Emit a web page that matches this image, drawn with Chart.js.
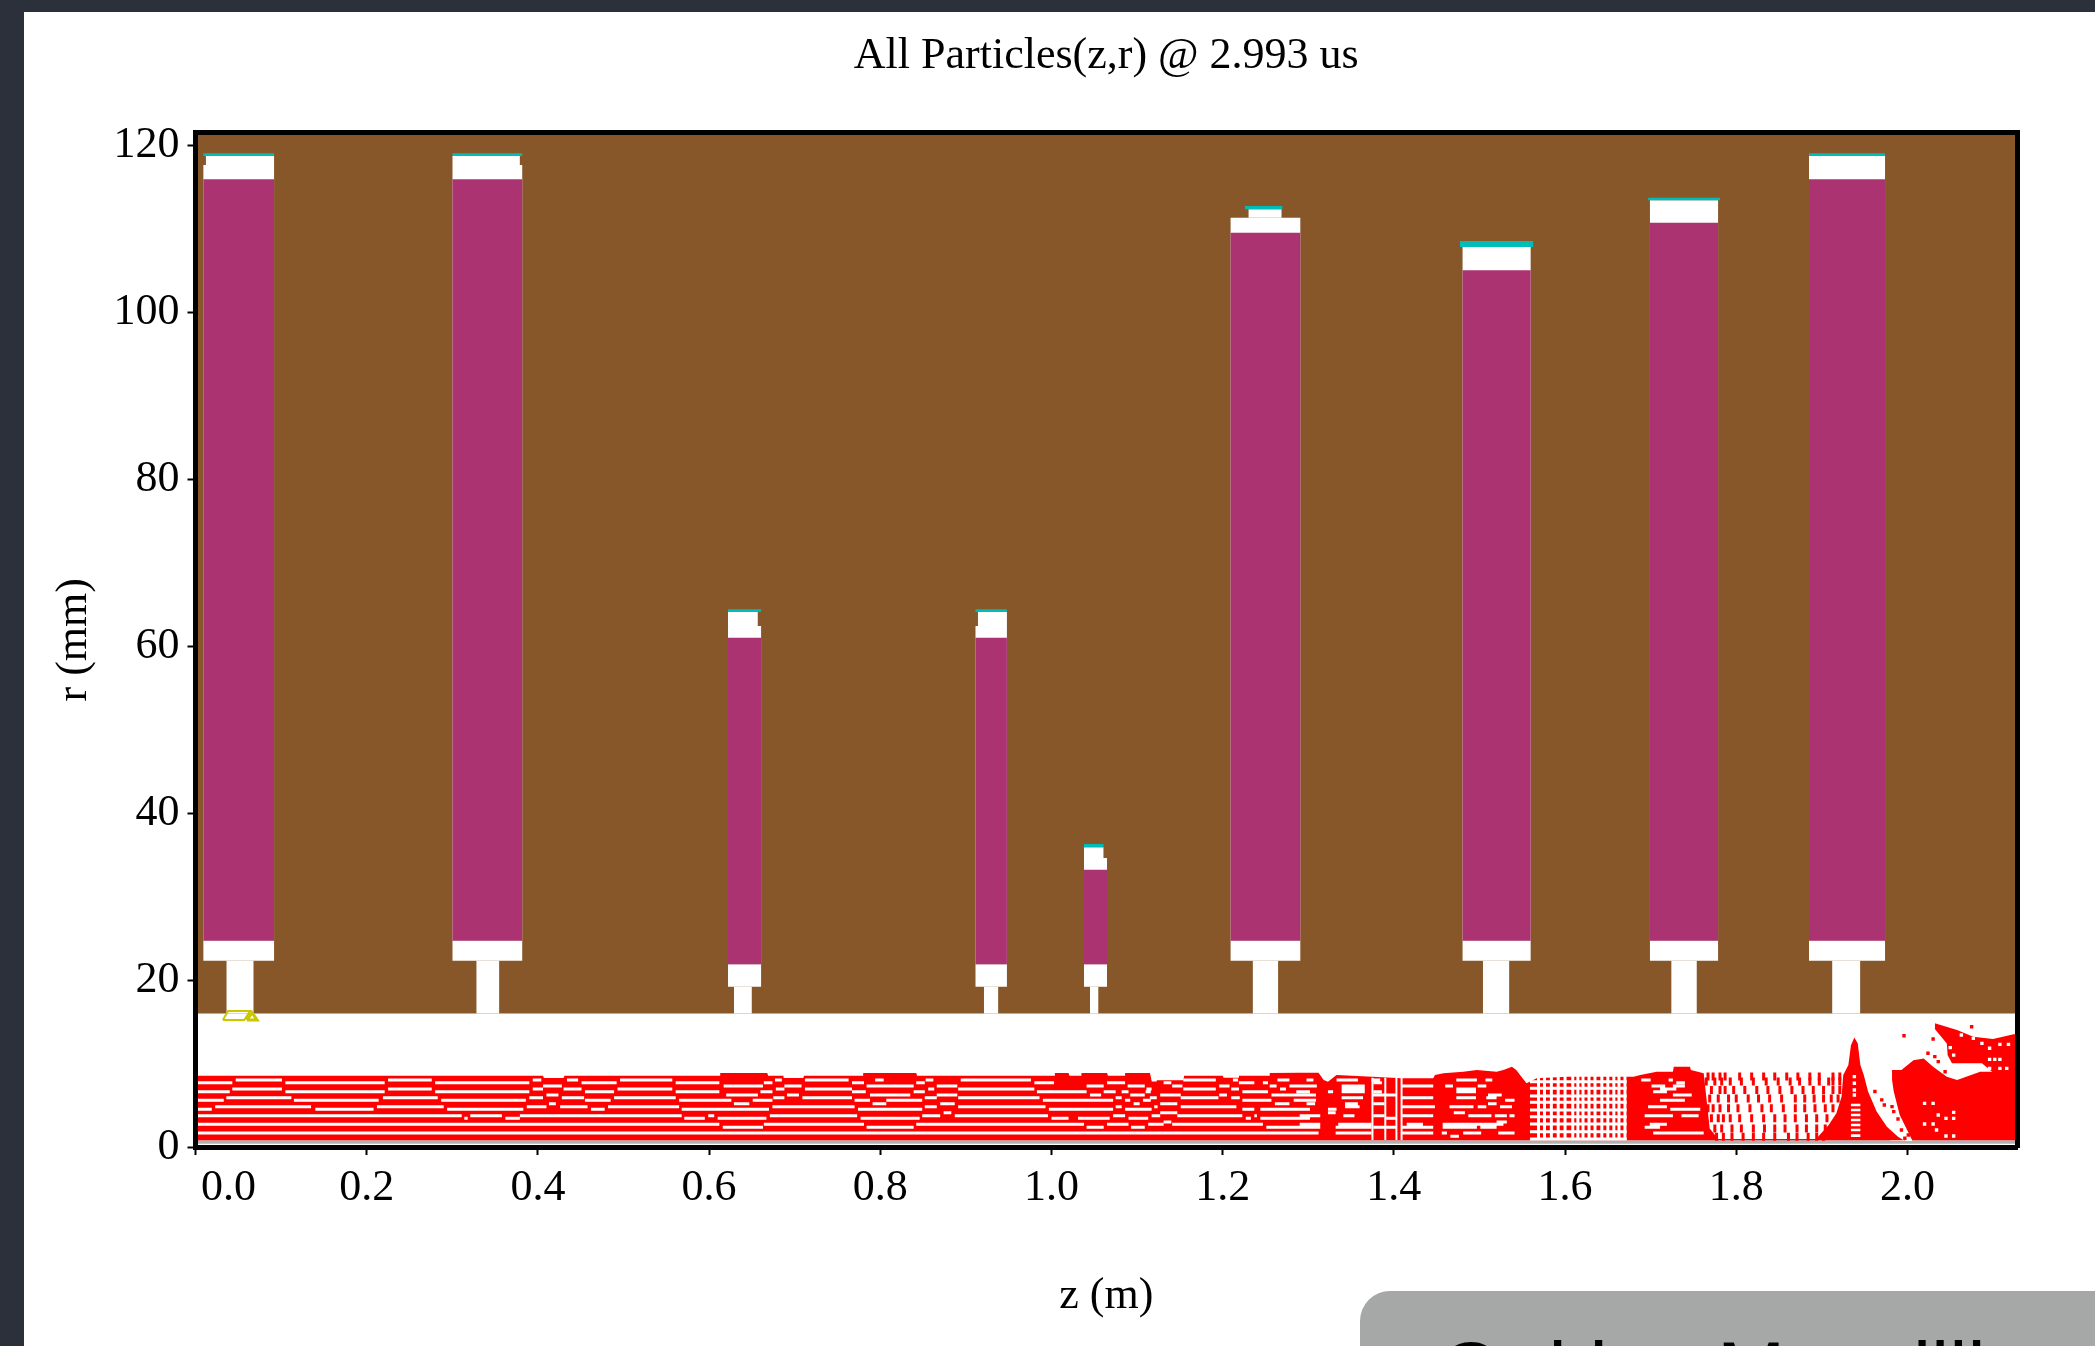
<!DOCTYPE html>
<html>
<head>
<meta charset="utf-8">
<title>All Particles(z,r)</title>
<script src="https://cdn.jsdelivr.net/npm/chart.js@4"></script>
<style>
    html, body { margin: 0; padding: 0; width: 2095px; height: 1346px; overflow: hidden; background: #2b303b; }
    #sheet { position: absolute; left: 24px; top: 12px; width: 2071px; height: 1334px; background: #fff; overflow: hidden; }
    #particles { position: absolute; left: 0; top: 0; }
    #caption {
        position: absolute; left: 1336px; top: 1279px; width: 800px; height: 120px;
        background: #a5a8a7; border-radius: 30px; overflow: hidden;
        font-family: 'Liberation Sans', sans-serif; font-size: 82px; color: #000;
        white-space: nowrap; box-sizing: border-box; padding: 35px 0 0 79px; line-height: 90px;
    }
</style>
</head>
<body>
<div id="sheet">
    <canvas id="particles" width="2071" height="1334"></canvas>
    <div id="caption">Oakley Mazzilli</div>
</div>
<script>
// Axes
const xTickValues = [0, 0.2, 0.4, 0.6, 0.8, 1.0, 1.2, 1.4, 1.6, 1.8, 2.0];
const xTickLabels = ['0.0', '0.2', '0.4', '0.6', '0.8', '1.0', '1.2', '1.4', '1.6', '1.8', '2.0'];
const yTickValues = [0, 20, 40, 60, 80, 100, 120];
const zMax = 2.128;
const rMax = 121.5;
const wallBottom = 16;

// Accelerating cells, left to right (z in m, r in mm)
const cellLeft = [0.009, 0.300, 0.622, 0.911, 1.038, 1.209, 1.480, 1.699, 1.885];
const cellRight = [0.092, 0.382, 0.661, 0.948, 1.065, 1.291, 1.560, 1.779, 1.974];
const capLeft = [0.012, 0.300, 0.622, 0.914, 1.038, 1.230, 1.480, 1.699, 1.885];
const capRight = [0.092, 0.379, 0.657, 0.948, 1.061, 1.269, 1.560, 1.779, 1.974];
const neckLeft = [0.036, 0.328, 0.629, 0.921, 1.045, 1.235, 1.504, 1.724, 1.912];
const neckRight = [0.068, 0.355, 0.650, 0.938, 1.055, 1.265, 1.535, 1.754, 1.945];
const cathodeLeft = [0.009, 0.300, 0.622, 0.911, 1.038, 1.226, 1.477, 1.697, 1.885];
const cathodeRight = [0.092, 0.382, 0.661, 0.948, 1.061, 1.270, 1.563, 1.781, 1.974];
const cathodeTop = [119.0, 119.0, 64.4, 64.4, 36.3, 112.7, 108.5, 113.7, 119.0];
const capTop = [118.7, 118.7, 64.1, 64.1, 35.9, 112.3, 107.8, 113.4, 118.7];
const shoulder = [117.6, 117.6, 62.4, 62.4, 34.6, 111.3, 107.8, 113.4, 118.7];
const bodyTop = [115.9, 115.9, 61.0, 61.0, 33.2, 109.5, 105.0, 110.7, 115.9];
const bodyBottom = [24.7, 24.7, 21.9, 21.9, 21.9, 24.7, 24.7, 24.7, 24.7];
const blockBottom = [22.3, 22.3, 19.2, 19.2, 19.2, 22.3, 22.3, 22.3, 22.3];

// Yellow marks at the first gap
const markZ = [0.032, 0.038, 0.064, 0.057, 0.032];
const markR = [15.2, 16.3, 16.3, 15.2, 15.2];
const markTipZ = [0.060, 0.066, 0.072, 0.060];
const markTipR = [15.2, 16.1, 15.2, 15.2];

// Beam outline
const beamZ = [0, 0.406, 0.407, 0.430, 0.431, 0.613, 0.613, 0.668, 0.669, 0.687, 0.687, 0.710, 0.711, 0.780, 0.780, 0.842, 0.843, 1.004, 1.004, 1.020, 1.021, 1.035, 1.035, 1.065, 1.066, 1.086, 1.086, 1.115, 1.117, 1.154, 1.155, 1.200, 1.201, 1.218, 1.219, 1.255, 1.255, 1.290, 1.312, 1.318, 1.323, 1.333, 1.375, 1.409, 1.446, 1.448, 1.458, 1.481, 1.497, 1.520, 1.528, 1.538, 1.543, 1.549, 1.555, 1.567, 1.602, 1.680, 1.688, 1.707, 1.726, 1.727, 1.746, 1.747, 1.762, 1.769, 1.779, 1.894];
const beamTop = [8.54, 8.54, 8.27, 8.27, 8.54, 8.54, 8.86, 8.86, 8.54, 8.54, 8.27, 8.27, 8.54, 8.54, 8.86, 8.86, 8.54, 8.54, 8.86, 8.86, 8.54, 8.54, 8.86, 8.86, 8.54, 8.54, 8.86, 8.86, 8.0, 8.0, 8.54, 8.54, 8.3, 8.3, 8.54, 8.54, 8.86, 8.9, 8.9, 8.02, 7.82, 8.62, 8.4, 8.22, 8.22, 8.62, 8.82, 9.02, 9.22, 9.02, 9.22, 9.62, 9.22, 8.42, 7.62, 8.22, 8.42, 8.42, 8.62, 9.02, 9.02, 9.62, 9.62, 9.22, 8.82, 2.23, 0.95, 0.95];

const spikeZ = [1.894, 1.908, 1.917, 1.923, 1.925, 1.931, 1.934, 1.938, 1.942, 1.945, 1.949, 1.954, 1.964, 1.976, 1.989, 1.997];
const spikeTop = [1.04, 2.63, 4.03, 6.03, 8.63, 9.82, 12.2, 13.1, 12.4, 9.82, 8.63, 6.64, 4.24, 2.44, 1.24, 0.72];

const endMassZ = [1.982, 1.993, 2.007, 2.019, 2.030, 2.046, 2.058, 2.085, 2.130];
const endMassTop = [9.22, 9.22, 10.4, 10.6, 9.62, 8.42, 8.03, 9.02, 9.02];
const streakTopZ = [2.032, 2.058, 2.077, 2.100, 2.124, 2.130];
const streakTop = [14.81, 14.01, 13.2, 12.93, 13.49, 13.49];
const streakBottomZ = [2.032, 2.046, 2.047, 2.052, 2.087, 2.100, 2.130];
const streakBottom = [14.13, 12.4, 11.0, 10.02, 10.02, 8.93, 8.93];
const wedgeZ = [1.980, 1.984, 1.991, 2.006];
const wedgeTop = [9.4, 6.64, 3.83, 0.72];

// Gaps between macro-particle rows: one r per row, then z from / z to pairs
const gapRows = [8.02, 7.70, 7.30, 6.95, 6.63, 6.23, 5.91, 5.59, 5.19, 4.83, 4.51, 4.10, 3.75, 3.43, 3.00, 2.71, 2.36, 1.68, 1.30];
const gapSpans = [
    [0.047, 0.101, 0.225, 0.276, 0.394, 0.404, 0.434, 0.447, 0.496, 0.557, 0.677, 0.685, 0.712, 0.763, 0.794, 0.804, 0.853, 0.862, 0.894, 0.976, 1.117, 1.123, 1.154, 1.192, 1.212, 1.218, 1.264, 1.278, 1.298, 1.306, 1.333, 1.358, 1.374, 1.384, 1.473, 1.497, 1.507, 1.515, 1.689, 1.700, 1.721, 1.726],
    [0.002, 0.043, 0.105, 0.221, 0.280, 0.390, 0.451, 0.492, 0.561, 0.612, 0.664, 0.674, 0.767, 0.781, 0.842, 0.852, 0.980, 1.003, 1.065, 1.086, 1.131, 1.140, 1.219, 1.237, 1.247, 1.253, 1.376, 1.386, 1.730, 1.740],
    [0.406, 0.428, 0.617, 0.663, 0.688, 0.708, 0.784, 0.839, 0.866, 0.890, 1.041, 1.061, 1.089, 1.109, 1.141, 1.153, 1.196, 1.208, 1.255, 1.263, 1.278, 1.302, 1.290, 1.310, 1.339, 1.366, 1.409, 1.446, 1.460, 1.469, 1.498, 1.508, 1.701, 1.715, 1.711, 1.717, 1.726, 1.740],
    [0.043, 0.101, 0.225, 0.276, 0.394, 0.406, 0.430, 0.451, 0.493, 0.557, 0.678, 0.688, 0.712, 0.767, 0.856, 0.863, 0.891, 0.980, 1.111, 1.117, 1.154, 1.192, 1.210, 1.219, 1.267, 1.274, 1.339, 1.366, 1.473, 1.496, 1.711, 1.730],
    [0.002, 0.040, 0.105, 0.221, 0.280, 0.390, 0.455, 0.489, 0.561, 0.612, 0.660, 0.674, 0.767, 0.783, 0.839, 0.852, 0.983, 1.041, 1.061, 1.075, 1.082, 1.090, 1.110, 1.116, 1.223, 1.253, 1.286, 1.302, 1.323, 1.329, 1.339, 1.366, 1.376, 1.386, 1.473, 1.496, 1.703, 1.719],
    [0.410, 0.424, 0.620, 0.657, 0.691, 0.705, 0.788, 0.835, 0.866, 0.890, 1.045, 1.058, 1.092, 1.109, 1.127, 1.151, 1.196, 1.205, 1.257, 1.302, 1.290, 1.309, 1.375, 1.403, 1.510, 1.526, 1.726, 1.748],
    [0.036, 0.112, 0.219, 0.283, 0.390, 0.406, 0.428, 0.454, 0.489, 0.561, 0.675, 0.688, 0.709, 0.767, 0.852, 0.866, 0.891, 0.986, 1.075, 1.082, 1.115, 1.123, 1.151, 1.195, 1.210, 1.220, 1.339, 1.364, 1.409, 1.446, 1.473, 1.496, 1.508, 1.520],
    [0.002, 0.033, 0.115, 0.214, 0.287, 0.386, 0.455, 0.485, 0.565, 0.626, 0.651, 0.674, 0.770, 0.788, 0.807, 0.849, 0.990, 1.072, 1.086, 1.092, 1.107, 1.116, 1.223, 1.257, 1.283, 1.295, 1.290, 1.309, 1.530, 1.541, 1.711, 1.740],
    [0.413, 0.421, 0.629, 0.647, 0.791, 0.807, 0.870, 0.887, 1.096, 1.103, 1.127, 1.147, 1.261, 1.278, 1.298, 1.308, 1.343, 1.358, 1.376, 1.389, 1.510, 1.520],
    [0.023, 0.135, 0.212, 0.290, 0.387, 0.410, 0.426, 0.458, 0.482, 0.565, 0.674, 0.770, 0.852, 0.866, 0.891, 0.993, 1.075, 1.082, 1.120, 1.124, 1.151, 1.216, 1.343, 1.360, 1.409, 1.448, 1.465, 1.493, 1.498, 1.508, 1.524, 1.538, 1.697, 1.719],
    [0.002, 0.019, 0.140, 0.208, 0.294, 0.383, 0.462, 0.478, 0.568, 0.670, 0.774, 0.849, 0.997, 1.072, 1.086, 1.117, 1.223, 1.237, 1.244, 1.302, 1.323, 1.333, 1.723, 1.758],
    [0.874, 0.883, 1.127, 1.147, 1.323, 1.332, 1.470, 1.483],
    [0.002, 0.311, 0.321, 0.358, 0.379, 0.568, 0.599, 0.606, 0.671, 0.773, 0.849, 0.870, 0.887, 0.996, 1.072, 1.086, 1.117, 1.127, 1.147, 1.223, 1.237, 1.240, 1.290, 1.314, 1.341, 1.354, 1.376, 1.389, 1.409, 1.446, 1.487, 1.514, 1.518, 1.532, 1.535, 1.541, 1.693, 1.715, 1.711, 1.726, 1.736, 1.756],
    [0.314, 0.318, 0.362, 0.379, 0.571, 0.595, 0.610, 0.667, 0.777, 0.846, 1.000, 1.020, 1.031, 1.068, 1.090, 1.113, 1.227, 1.233, 1.244, 1.302, 1.391, 1.403],
    [1.131, 1.140, 1.520, 1.532],
    [0.002, 0.612, 0.664, 0.781, 0.842, 1.038, 1.065, 1.090, 1.113, 1.131, 1.141, 1.247, 1.290, 1.314, 1.335, 1.374, 1.415, 1.434, 1.457, 1.528, 1.699, 1.719],
    [0.616, 0.663, 0.784, 0.839, 1.041, 1.061, 1.093, 1.109, 1.251, 1.302, 1.290, 1.314, 1.332, 1.374, 1.376, 1.403, 1.409, 1.446, 1.457, 1.497, 1.501, 1.520, 1.693, 1.711],
    [0.002, 1.312, 1.332, 1.374, 1.409, 1.446, 1.456, 1.462, 1.481, 1.502, 1.522, 1.541, 1.703, 1.734, 1.723, 1.762],
    [1.466, 1.476]
];

// White mesh of the loosened beam between the cells
const meshRows = [7.82, 7.03, 6.11, 5.35, 4.43, 3.63, 2.75, 1.84, 0.97];
const meshFrom = 1.559;
const meshTo = 1.672;
const meshColumns = [1.569, 1.576, 1.584, 1.592, 1.600, 1.609, 1.615, 1.621, 1.628, 1.635, 1.643, 1.650, 1.657, 1.663, 1.670];
const meshColumnTop = 8.5;
const meshColumnBottom = 0.85;
const slitColumns = [1.375, 1.390, 1.403, 1.409];
const slitTop = 8.3;
const slitBottom = 0.85;

// Loose particles, row by row, between z = 1.76 and z = 1.92
const looseRows = [8.45, 7.83, 6.82, 5.82, 4.63, 3.43, 2.23, 1.24];
const looseZ = [
    [1.767, 1.773, 1.781, 1.787, 1.804, 1.818, 1.832, 1.845, 1.859, 1.872, 1.886, 1.897, 1.913, 1.921],
    [1.765, 1.775, 1.783, 1.793, 1.806, 1.820, 1.835, 1.849, 1.863, 1.874, 1.886, 1.897, 1.908, 1.913, 1.921],
    [1.771, 1.781, 1.787, 1.797, 1.810, 1.824, 1.837, 1.851, 1.865, 1.878, 1.890, 1.902, 1.913, 1.921],
    [1.769, 1.779, 1.791, 1.800, 1.814, 1.826, 1.839, 1.853, 1.869, 1.880, 1.891, 1.902, 1.911, 1.919],
    [1.767, 1.773, 1.781, 1.791, 1.802, 1.816, 1.830, 1.841, 1.855, 1.869, 1.880, 1.892, 1.904, 1.913],
    [1.771, 1.779, 1.785, 1.793, 1.804, 1.818, 1.832, 1.845, 1.857, 1.869, 1.882, 1.894, 1.906],
    [1.775, 1.783, 1.795, 1.806, 1.820, 1.833, 1.845, 1.857, 1.871, 1.882, 1.894, 1.904],
    [1.777, 1.785, 1.795, 1.808, 1.820, 1.832, 1.845, 1.861, 1.871, 1.884, 1.894, 1.902]
];

// Solitary dots near the exit
const redDotZ = [1.962, 1.970, 1.973, 1.982, 1.984, 1.989, 1.993, 1.997, 2.000, 2.002, 2.001, 1.996, 2.075, 2.030, 2.024, 2.032, 2.036, 2.044];
const redDotR = [6.64, 5.64, 5.03, 4.83, 4.24, 3.35, 2.03, 1.04, 3.03, 2.23, 1.43, 13.33, 14.41, 12.93, 11.22, 10.82, 10.22, 9.02];
const holeZ = [2.050, 2.054, 2.063, 2.077, 2.087, 2.096, 2.108, 2.118, 2.096, 2.102, 2.108, 2.096, 2.108, 2.116, 2.020, 2.030, 2.036, 2.054, 2.045, 2.054, 2.020, 2.030, 2.034, 2.045, 2.054, 1.938, 1.938, 1.938, 1.938];
const holeR = [11.9, 11.0, 13.41, 13.01, 12.41, 11.82, 12.29, 12.29, 10.5, 10.5, 10.5, 9.42, 9.42, 9.42, 5.22, 5.22, 3.83, 4.15, 3.43, 3.43, 2.76, 2.76, 2.03, 1.32, 1.32, 8.43, 7.63, 6.83, 6.23];
const spikeGapRows = [5.03, 4.44, 3.83, 3.23, 2.63, 2.03, 1.36];
const spikeGapFrom = 1.934;
const spikeGapTo = 1.945;

const BROWN = '#87572a';
const MAGENTA = '#ac3371';
const CYAN = '#00bdb9';
const RED = '#ff0000';
const WHITE = '#ffffff';
const OLIVE = '#c9c800';
const EDGE = '#b0b0b0';

const layers = [];

// Rectangle: a two point line filled down to a fixed r
function addRect(z0, z1, rBottom, rTop, color) {
    layers.push({
        data: [{x: z0, y: rTop}, {x: z1, y: rTop}],
        backgroundColor: color, borderWidth: 0, pointRadius: 0,
        fill: {value: rBottom}
    });
}

function toPoints(zs, rs) {
    return zs.map((z, i) => ({x: z, y: rs[i]}));
}

// Outline filled down to a fixed r
function addOutline(zs, rs, rBottom, color) {
    layers.push({
        data: toPoints(zs, rs),
        backgroundColor: color, borderWidth: 0, pointRadius: 0,
        fill: {value: rBottom}
    });
}

// Region between two outlines
function addBand(upperZ, upperR, lowerZ, lowerR, color) {
    layers.push({
        data: toPoints(upperZ, upperR),
        backgroundColor: color, borderWidth: 0, pointRadius: 0,
        fill: '+1'
    });
    layers.push({
        data: toPoints(lowerZ, lowerR),
        borderWidth: 0, pointRadius: 0, fill: false
    });
}

// Several separate strokes in one dataset, split by empty points
function addStrokes(points, color, width) {
    layers.push({
        data: points, borderColor: color, borderWidth: width,
        pointRadius: 0, fill: false, spanGaps: false, borderCapStyle: 'butt'
    });
}

function addDots(points, color, style, radius, rotation, width) {
    layers.push({
        data: points, showLine: false, fill: false,
        pointStyle: style, pointRadius: radius, pointRotation: rotation,
        pointBackgroundColor: color, pointBorderColor: color, pointBorderWidth: width
    });
}

function buildLayers() {
    // Wall with its nine cells cut out
    addRect(0, zMax, wallBottom, rMax, BROWN);
    cellLeft.forEach((left, i) => {
        addRect(left, cellRight[i], bodyBottom[i], shoulder[i], WHITE);
        addRect(capLeft[i], capRight[i], shoulder[i], capTop[i], WHITE);
        addRect(left, cellRight[i], blockBottom[i], bodyBottom[i], WHITE);
        addRect(neckLeft[i], neckRight[i], wallBottom, blockBottom[i], WHITE);
        addRect(left, cellRight[i], bodyBottom[i], bodyTop[i], MAGENTA);
        addRect(cathodeLeft[i], cathodeRight[i], capTop[i], cathodeTop[i], CYAN);
    });

    addStrokes(toPoints(markZ, markR), OLIVE, 2);
    addStrokes(toPoints(markTipZ, markTipR), OLIVE, 3);

    // Beam
    addRect(0, zMax, 0.4, 0.8, EDGE);
    addOutline(beamZ, beamTop, 0.8, RED);

    const gapPoints = [];
    gapRows.forEach((r, i) => {
        for (let k = 0; k < gapSpans[i].length; k += 2) {
            gapPoints.push({x: gapSpans[i][k], y: r}, {x: gapSpans[i][k + 1], y: r}, {x: gapSpans[i][k + 1], y: null});
        }
    });
    meshRows.forEach(r => {
        gapPoints.push({x: meshFrom, y: r}, {x: meshTo, y: r}, {x: meshTo, y: null});
    });
    addStrokes(gapPoints, WHITE, 3);

    const columnPoints = [];
    meshColumns.forEach(z => {
        columnPoints.push({x: z, y: meshColumnTop}, {x: z, y: meshColumnBottom}, {x: z, y: null});
    });
    addStrokes(columnPoints, WHITE, 3);

    const slitPoints = [];
    slitColumns.forEach(z => {
        slitPoints.push({x: z, y: slitTop}, {x: z, y: slitBottom}, {x: z, y: null});
    });
    addStrokes(slitPoints, WHITE, 2);

    // Loose particles
    const loosePoints = [];
    looseRows.forEach((r, i) => {
        looseZ[i].forEach(z => loosePoints.push({x: z, y: r}));
    });
    addDots(loosePoints, RED, 'line', 4, 90, 3);

    // Exit: mass, streak, white wedge and spike
    addOutline(endMassZ, endMassTop, 0.8, RED);
    addBand(streakTopZ, streakTop, streakBottomZ, streakBottom, RED);
    addOutline(wedgeZ, wedgeTop, 0.72, WHITE);
    addOutline(spikeZ, spikeTop, 0.8, RED);

    const spikeGaps = [];
    spikeGapRows.forEach(r => {
        spikeGaps.push({x: spikeGapFrom, y: r}, {x: spikeGapTo, y: r}, {x: spikeGapTo, y: null});
    });
    addStrokes(spikeGaps, WHITE, 2.6);

    addDots(toPoints(holeZ, holeR), WHITE, 'rect', 2.4, 0, 0);
    addDots(toPoints(redDotZ, redDotR), RED, 'rect', 2.4, 0, 0);

    // Highest order is drawn first
    layers.forEach((layer, i) => { layer.order = -i; });
    return layers;
}

Chart.defaults.font.family = "'Liberation Serif', 'Times New Roman', serif";
Chart.defaults.font.size = 44;
Chart.defaults.color = '#000';

const frame = {display: true, color: '#000', width: 5, z: 1};
const tickMarks = {drawOnChartArea: false, drawTicks: true, tickLength: 8, tickColor: '#000', tickWidth: 2};

new Chart(document.getElementById('particles'), {
    type: 'line',
    data: {datasets: buildLayers()},
    options: {
        responsive: false,
        animation: false,
        events: [],
        layout: {autoPadding: false, padding: {left: 0, right: 78, top: 0, bottom: 0}},
        plugins: {
            legend: {display: false},
            tooltip: {enabled: false},
            title: {
                display: true,
                text: 'All Particles(z,r) @ 2.993 us',
                fullSize: false,
                font: {size: 44, weight: 'normal'},
                padding: {top: 17.7, bottom: 50}
            }
        },
        scales: {
            x: {
                type: 'linear', position: 'bottom', min: 0, max: zMax,
                afterBuildTicks: scale => { scale.ticks = xTickValues.map(v => ({value: v})); },
                afterFit: scale => { scale.height = 199; },
                border: frame,
                grid: tickMarks,
                ticks: {
                    autoSkip: false, maxRotation: 0, minRotation: 0, padding: 7,
                    // le premier libellé est décalé vers la droite de l'axe
                    callback: (value, index) => (index === 0 ? '      ' : '') + xTickLabels[index]
                },
                title: {display: true, text: 'z (m)', font: {size: 44}, padding: {top: 0, bottom: 23}}
            },
            y: {
                type: 'linear', position: 'left', min: 0, max: rMax,
                afterBuildTicks: scale => { scale.ticks = yTickValues.map(v => ({value: v})); },
                afterFit: scale => { scale.width = 171.5; },
                border: frame,
                grid: tickMarks,
                ticks: {autoSkip: false, padding: 8},
                title: {display: true, text: 'r (mm)', font: {size: 44}, padding: {top: 24, bottom: 0}}
            },
            top: {
                type: 'linear', position: 'top', min: 0, max: zMax, display: true,
                afterFit: scale => { scale.height = 0; },
                border: frame, grid: {display: false}, ticks: {display: false}
            },
            right: {
                type: 'linear', position: 'right', min: 0, max: rMax, display: true,
                afterFit: scale => { scale.width = 0; },
                border: frame, grid: {display: false}, ticks: {display: false}
            }
        }
    }
});
</script>
</body>
</html>
